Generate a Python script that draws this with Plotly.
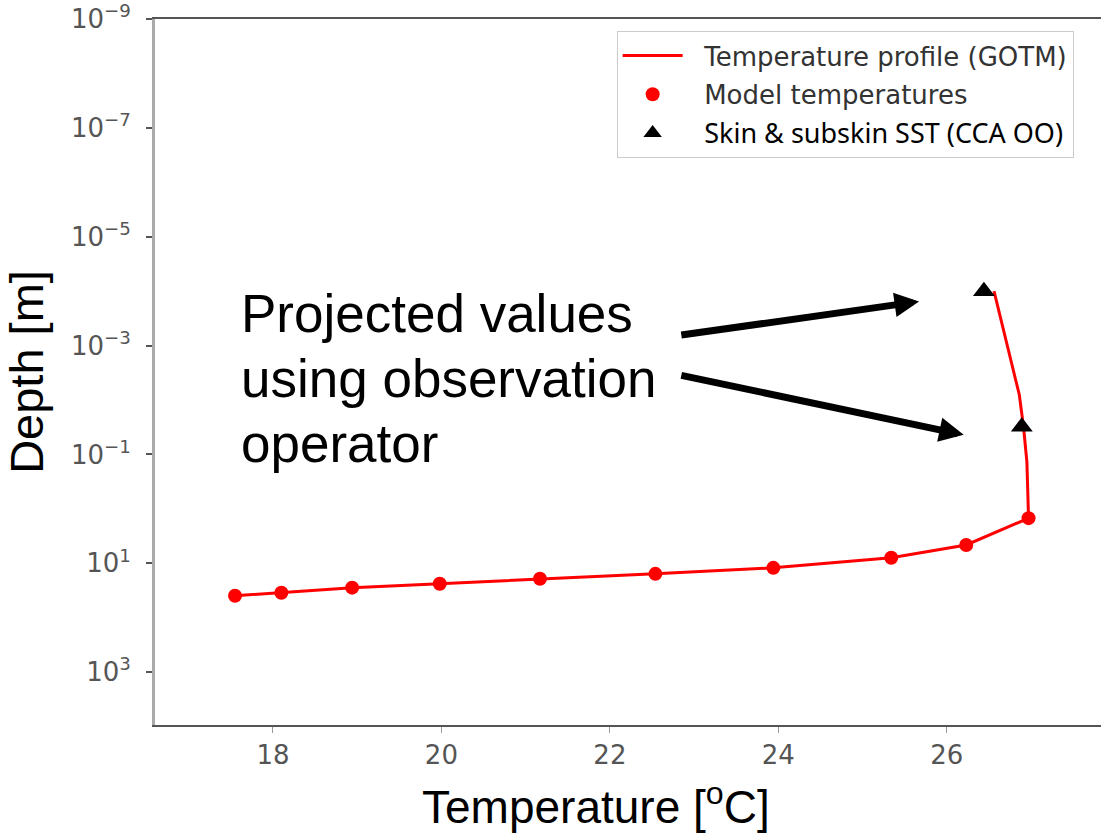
import plotly.graph_objects as go

# Model temperatures at the GOTM grid levels
model_temp = [17.55, 18.10, 18.94, 19.98, 21.17, 22.54, 23.94, 25.34, 26.23, 26.97]
model_depth = [39.3, 34.6, 28.0, 23.7, 19.2, 15.6, 12.1, 7.9, 4.6, 1.48]

# Near-surface part of the continuous GOTM profile (above the top grid level)
surface_temp = [26.56, 26.68, 26.76, 26.86, 26.91, 26.95]
surface_depth = [1.0e-4, 5.6e-4, 2.0e-3, 8.0e-3, 0.031, 0.135]

# Skin and subskin SST from the observation operator
sst_temp = [26.44, 26.89]
sst_depth = [1.0e-4, 0.031]

# Axis ticks
x_ticks = [18, 20, 22, 24, 26]
y_tick_exp = [-9, -7, -5, -3, -1, 1, 3]

# Callout text lines
callout_lines = ["Projected values", "using observation", "operator"]

profile_temp = surface_temp + model_temp[::-1]
profile_depth = surface_depth + model_depth[::-1]

LEG_FONT = "DejaVu Sans"
ALT_FONT = "Noto Sans"
PAD = "&nbsp;&nbsp;"

fig = go.Figure()
fig.add_trace(go.Scatter(
    x=profile_temp, y=profile_depth, mode="lines",
    line=dict(color="#ff0000", width=3),
    name=f'{PAD}<span style="color:#333">Temperature profile (GOTM)</span>',
    legendgroup="a",
))
fig.add_trace(go.Scatter(
    x=model_temp, y=model_depth, mode="markers",
    marker=dict(color="#ff0000", size=14, symbol="circle"),
    name=f'{PAD}<span style="color:#333">Model temperatures</span>',
    legendgroup="b",
))
fig.add_trace(go.Scatter(
    x=sst_temp, y=sst_depth, mode="markers",
    marker=dict(color="#000000", size=19, symbol="triangle-up"),
    name=f'{PAD}<span style="font-family:{ALT_FONT};font-size:27px;color:#000">'
         'Skin &amp; subskin SST (CCA OO)</span>',
    legendgroup="c",
))

# Arrows pointing at the projected values (positions in temperature / log10 depth)
arrow_specs = [
    dict(tip=(25.67, -3.81), tail=(22.83, -3.19)),
    dict(tip=(26.20, -1.36), tail=(22.83, -2.46)),
]
for a in arrow_specs:
    fig.add_annotation(
        x=a["tip"][0], y=a["tip"][1], ax=a["tail"][0], ay=a["tail"][1],
        xref="x", yref="y", axref="x", ayref="y",
        text="", showarrow=True, arrowhead=2, arrowsize=0.7,
        arrowwidth=7, arrowcolor="#000000", standoff=0, startstandoff=0,
    )

# Callout text, one annotation per line (log10 depth positions)
callout_y = [-3.59, -2.39, -1.20]
for line, yy in zip(callout_lines, callout_y):
    fig.add_annotation(
        x=17.596, y=yy, xref="x", yref="y",
        xanchor="left", yanchor="middle", align="left", showarrow=False,
        text=line,
        font=dict(family="Liberation Sans", size=53, color="#000000"),
    )

# x-axis title, anchored to the bottom edge of the figure
fig.add_annotation(
    x=0.466, y=-0.1549, xref="paper", yref="paper",
    xanchor="center", yanchor="bottom", showarrow=False,
    text="Temperature [<sup>o</sup>C]", borderpad=0,
    font=dict(family="Liberation Sans", size=46, color="#000000"),
)

tick_font = dict(family="DejaVu Sans", size=26, color="#555")

fig.update_layout(
    width=1101, height=835,
    margin=dict(l=155, r=0, t=15, b=110),
    paper_bgcolor="white", plot_bgcolor="white",
    showlegend=True,
    legend=dict(
        x=0.488, y=0.983, xanchor="left", yanchor="top",
        bgcolor="white", bordercolor="#cccccc", borderwidth=1,
        font=dict(family=LEG_FONT, size=26, color="#333"),
        itemwidth=60, tracegroupgap=2, traceorder="grouped",
    ),
    xaxis=dict(
        range=[16.60, 27.83], tickvals=x_ticks,
        ticktext=[str(v) for v in x_ticks],
        showgrid=False, zeroline=False,
        showline=True, linecolor="#555555", linewidth=2, mirror=True,
        ticks="outside", ticklen=6, tickwidth=1, tickcolor="#999999",
        tickfont=tick_font,
    ),
    yaxis=dict(
        type="log", range=[3.97, -9],
        tickvals=[10.0 ** e for e in y_tick_exp],
        ticktext=[f"10<sup>{str(e).replace('-', '−')}</sup>" for e in y_tick_exp],
        showgrid=False, zeroline=False,
        showline=True, linecolor="#aaaaaa", linewidth=3,
        ticks="outside", ticklen=6, tickwidth=2, tickcolor="#555555",
        tickfont=tick_font, ticklabelstandoff=10, ticklabeloverflow="allow",
        title=dict(text="Depth [m]", standoff=14,
                   font=dict(family="Liberation Sans", size=47, color="#000")),
    ),
)

fig.write_html("out.html")
